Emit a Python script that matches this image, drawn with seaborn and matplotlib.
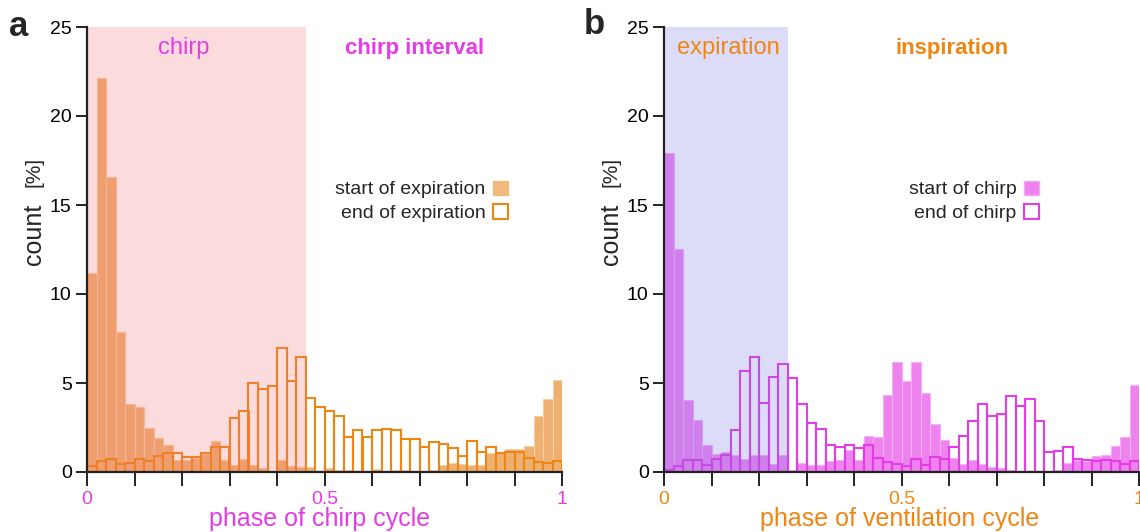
import numpy as np
import pandas as pd
import matplotlib
matplotlib.use("Agg")
import matplotlib.pyplot as plt
from matplotlib.patches import Patch
import seaborn as sns

# ---------------- data (percent per bin, 50 bins over phase 0..1) ----------------
n_bins = 50
start_expiration = [11.16, 22.15, 16.55, 7.85, 3.8, 3.67, 2.47, 1.93, 1.54, 0.67,
                    0.7, 0.8, 1.0, 1.74, 0.67, 0.39, 0.73, 0.39, 0.2, 0.08,
                    0.66, 0.32, 0.26, 0.26, 0.06, 0.24, 0.13, 0.13, 0.06, 0.06,
                    0.19, 0.06, 0.13, 0.13, 0.06, 0.06, 0.13, 0.37, 0.51, 0.47,
                    0.37, 0.37, 1.05, 1.09, 1.31, 1.31, 1.46, 3.13, 4.12, 5.19]
end_expiration = [0.36, 0.62, 0.71, 0.43, 0.49, 0.71, 0.62, 0.9, 1.05, 1.09,
                  0.82, 0.82, 1.05, 1.42, 1.42, 3.05, 3.45, 4.98, 4.64, 4.83,
                  6.95, 5.09, 6.48, 4.14, 3.67, 3.41, 3.13, 1.95, 2.34, 1.95,
                  2.34, 2.42, 2.34, 1.87, 1.87, 1.42, 1.67, 1.55, 1.35, 0.9,
                  1.74, 1.14, 1.4, 1.09, 1.14, 1.14, 0.8, 0.58, 0.49, 0.6]
start_chirp = [17.92, 12.51, 4.03, 2.9, 1.5, 1.03, 1.12, 0.94, 0.75, 0.94,
               0.94, 0.47, 0.94, 0.13, 0.52, 0.37, 0.41, 0.62, 0.69, 1.22,
               0.69, 2.02, 1.97, 4.34, 6.18, 5.09, 6.18, 4.44, 2.68, 1.82,
               0.8, 0.47, 0.69, 0.47, 0.28, 0.22, 0.13, 0.06, 0.06, 0.06,
               0.06, 0.13, 0.5, 0.66, 0.6, 0.9, 0.96, 1.48, 1.97, 4.87]
end_chirp = [0.09, 0.32, 0.66, 0.66, 0.41, 0.71, 0.94, 2.34, 5.67, 6.46,
             3.88, 5.34, 6.09, 5.28, 3.8, 2.73, 2.4, 1.54, 1.4, 1.54,
             1.35, 1.54, 0.8, 0.54, 0.47, 0.34, 0.71, 0.41, 0.86, 0.71,
             1.4, 2.02, 2.88, 3.8, 3.15, 3.26, 4.27, 3.69, 4.08, 2.88,
             1.14, 1.2, 1.4, 0.73, 0.66, 0.64, 0.69, 0.62, 0.47, 0.62]

chirp_phase_end = 0.46      # end of chirp within chirp cycle
expir_phase_end = 0.26      # end of expiration within ventilation cycle

x_ticks = [0, 0.1, 0.2, 0.3, 0.4, 0.5, 0.6, 0.7, 0.8, 0.9, 1.0]
x_ticklabels = ["0", "", "", "", "", "0.5", "", "", "", "", "1"]
y_ticks = [0, 5, 10, 15, 20, 25]

# ---------------- style ----------------
sns.set_style("ticks")
plt.rcParams["font.family"] = ["Liberation Sans", "DejaVu Sans"]

MAGENTA = "#E43CE6"
ORANGE = "#EE8614"
W, H = 1140, 532

fig = plt.figure(figsize=(W / 100, H / 100), dpi=100)
ax_a = fig.add_axes([87 / W, 60 / H, 475 / W, 445 / H])
ax_b = fig.add_axes([664 / W, 60 / H, 475 / W, 445 / H])

edges = np.linspace(0, 1, n_bins + 1)
centers = (edges[:-1] + edges[1:]) / 2


def panel(ax, filled, outline, fill_color, fill_edge, line_color,
          span_end, span_color, span_alpha, tick_color):
    df = pd.DataFrame({"phase": centers, "filled": filled, "outline": outline})
    sns.histplot(data=df, x="phase", weights="filled", bins=n_bins,
                 binrange=(0, 1), ax=ax, stat="count", element="bars",
                 fill=True, color=fill_color, alpha=1,
                 edgecolor=fill_edge, linewidth=0.8)
    sns.histplot(data=df, x="phase", weights="outline", bins=n_bins,
                 binrange=(0, 1), ax=ax, stat="count", element="bars",
                 fill=False, color=line_color, linewidth=1.5)
    ax.axvspan(0, span_end, color=span_color, alpha=span_alpha, lw=0,
               zorder=2)
    ax.set_xlim(0, 1)
    ax.set_ylim(0, 25)
    ax.set_xticks(x_ticks)
    ax.set_xticklabels(x_ticklabels)
    ax.set_yticks(y_ticks)
    ax.tick_params(axis="x", length=10, width=1.4, colors="#222222",
                   labelcolor=tick_color, labelsize=14, pad=4)
    ax.tick_params(axis="y", length=8, width=1.4, colors="#222222",
                   labelcolor="black", labelsize=14, pad=3)
    for s in ("top", "right"):
        ax.spines[s].set_visible(False)
    for s in ("left", "bottom"):
        ax.spines[s].set_linewidth(1.6)
        ax.spines[s].set_color("#222222")
        ax.spines[s].set_zorder(3)
    ax.set_ylabel("")
    ax.set_xlabel("")


panel(ax_a, start_expiration, end_expiration, "#EEB070", "#F6CFA6", ORANGE,
      chirp_phase_end, "#F5696D", 0.24, MAGENTA)
panel(ax_b, start_chirp, end_chirp, "#EE82EE", "#F4B0F4", MAGENTA,
      expir_phase_end, "#7777E7", 0.25, ORANGE)


def ftext(px, py, s, **kw):
    fig.text(px / W, 1 - py / H, s, **kw)


# x labels
ftext(320, 526, "phase of chirp cycle", color=MAGENTA, fontsize=18,
      ha="center", va="baseline")
ftext(900, 526, "phase of ventilation cycle", color=ORANGE, fontsize=18,
      ha="center", va="baseline")

# region annotations
ax_a.text(0.204, 23.8, "chirp", color=MAGENTA, fontsize=17, ha="center",
          va="center", zorder=4)
ax_a.text(0.69, 23.8, "chirp interval", color=MAGENTA, fontsize=16,
          fontweight="bold", ha="center", va="center", zorder=4)
ax_b.text(0.135, 23.8, "expiration", color=ORANGE, fontsize=17, ha="center",
          va="center", zorder=4)
ax_b.text(0.606, 23.8, "inspiration", color=ORANGE, fontsize=16,
          fontweight="bold", ha="center", va="center", zorder=4)

# legends
h_a = [Patch(facecolor="#F0BA7E", edgecolor="#F0BA7E", label="start of expiration"),
       Patch(facecolor="white", edgecolor=ORANGE, linewidth=1.5, label="end of expiration")]
ax_a.legend(handles=h_a, loc="upper right", bbox_to_anchor=(0.886, 0.655),
            frameon=False, markerfirst=False, fontsize=14, handlelength=0.75,
            handleheight=0.75, handletextpad=0.4, labelspacing=0.3,
            borderpad=0, borderaxespad=0)
h_b = [Patch(facecolor="#EE82EE", edgecolor="#F4A8F4", label="start of chirp"),
       Patch(facecolor="white", edgecolor=MAGENTA, linewidth=1.5, label="end of chirp")]
ax_b.legend(handles=h_b, loc="upper right", bbox_to_anchor=(0.789, 0.655),
            frameon=False, markerfirst=False, fontsize=14, handlelength=0.75,
            handleheight=0.75, handletextpad=0.4, labelspacing=0.3,
            borderpad=0, borderaxespad=0)

for x0 in (34, 611):
    ftext(x0, 234, "count", rotation=90, fontsize=18, ha="center", va="center")
    ftext(x0, 172, "[%]", rotation=90, fontsize=15, ha="center", va="center")

ftext(19, 26, "a", fontsize=25, fontweight="bold", ha="center", va="center")
ftext(594, 25, "b", fontsize=25, fontweight="bold", ha="center", va="center")

fig.savefig("out.png", dpi=100)
